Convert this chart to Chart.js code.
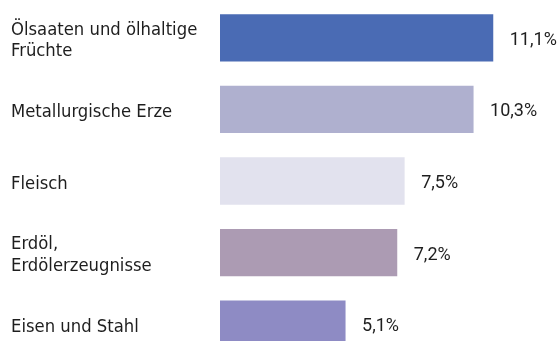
<!DOCTYPE html>
<html>
<head>
<meta charset="utf-8">
<script src="https://cdn.jsdelivr.net/npm/chart.js@4/dist/chart.umd.min.js"></script>
<style>
  html, body { margin: 0; padding: 0; background: #fff; overflow: hidden; }
  #wrap { width: 558px; height: 360px; position: relative; }
</style>
</head>
<body>
<div id="wrap"><canvas id="c"></canvas></div>
<script>
const categories = [
  ["Ölsaaten und ölhaltige", "Früchte"],
  ["Metallurgische Erze"],
  ["Fleisch"],
  ["Erdöl,", "Erdölerzeugnisse"],
  ["Eisen und Stahl"]
];
const shares = [11.1, 10.3, 7.5, 7.2, 5.1];
const valueLabels = ["11,1%", "10,3%", "7,5%", "7,2%", "5,1%"];
const barColors = ["#4a6bb4", "#afb0cf", "#e2e2ee", "#ac9bb3", "#8e8bc4"];

const textColor = "#1e1e1e";

// Category names at the left edge and value labels after each bar
const labelPlugin = {
  id: "labels",
  afterDatasetsDraw(chart) {
    const ctx = chart.ctx;
    const yScale = chart.scales.y;
    const meta = chart.getDatasetMeta(0);
    ctx.save();
    ctx.fillStyle = textColor;
    ctx.textBaseline = "alphabetic";
    // category labels
    ctx.font = "18.3px 'DejaVu Sans Condensed', 'DejaVu Sans', sans-serif";
    ctx.textAlign = "left";
    const lineH = 21.5;
    categories.forEach((lines, i) => {
      const cy = yScale.getPixelForValue(i) + 1;
      const y0 = cy - (lines.length - 1) * lineH / 2 + 6.6;
      lines.forEach((ln, k) => ctx.fillText(ln, 11, y0 + k * lineH));
    });
    // value labels
    ctx.font = "18px Roboto, sans-serif";
    meta.data.forEach((bar, i) => {
      ctx.fillText(valueLabels[i], bar.x + 16.5, bar.y + 7);
    });
    ctx.restore();
  }
};

new Chart(document.getElementById("c"), {
  type: "bar",
  data: {
    labels: categories.map(l => l.join(" ")),
    datasets: [{
      data: shares,
      backgroundColor: barColors,
      borderWidth: 0,
      categoryPercentage: 0.66,
      barPercentage: 1.0
    }]
  },
  options: {
    indexAxis: "y",
    responsive: true,
    maintainAspectRatio: false,
    animation: false,
    layout: { padding: { left: 220, right: 0, top: 2, bottom: 0 } },
    plugins: { legend: { display: false }, tooltip: { enabled: false } },
    scales: {
      x: {
        min: 0, max: 13.73,
        display: false
      },
      y: {
        display: false
      }
    }
  },
  plugins: [labelPlugin]
});
</script>
</body>
</html>
